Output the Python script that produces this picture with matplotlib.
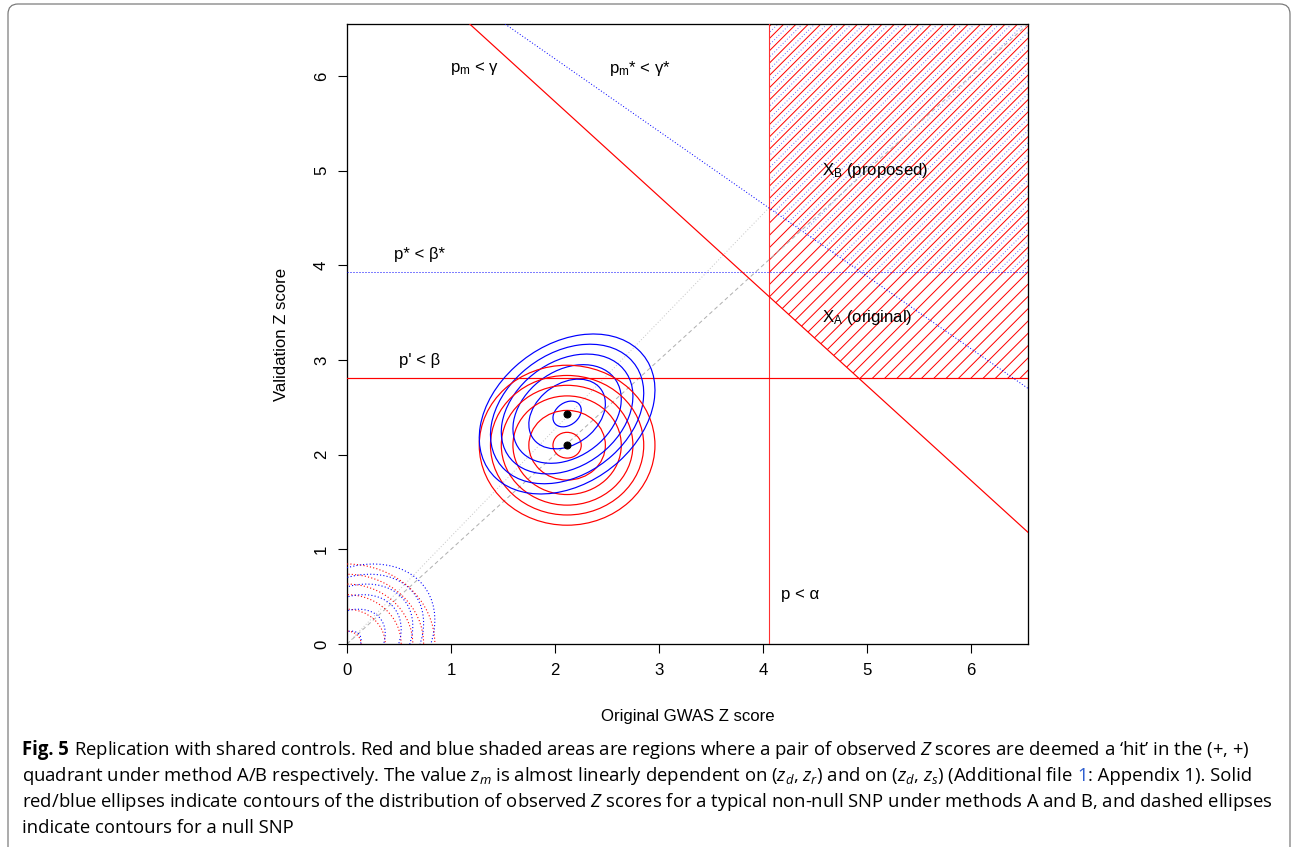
import numpy as np
import matplotlib
matplotlib.use('Agg')
import matplotlib.pyplot as plt
from matplotlib.patches import Polygon, Ellipse, FancyBboxPatch
from matplotlib.lines import Line2D
from matplotlib.text import Annotation
from matplotlib.transforms import IdentityTransform

W, H, DPI = 1294, 847, 72

# ---------------- data ----------------
x_ticks = [0, 1, 2, 3, 4, 5, 6]
y_ticks = [0, 1, 2, 3, 4, 5, 6]
z_max = 6.55
alpha_z = 4.06          # p < alpha   (vertical red line)
beta_z = 2.81           # p' < beta   (horizontal red line)
beta_star_z = 3.93      # p* < beta*  (horizontal blue dotted line)
gamma_sum = 7.73        # p_m < gamma : x + y = gamma_sum (red diagonal)
gamma_star_pts = [(1.52, 6.55), (6.55, 2.70)]   # p_m* < gamma* (blue dotted diagonal)
contour_r = [0.136, 0.368, 0.521, 0.633, 0.737, 0.845]
centre_A = (2.117, 2.10)
centre_B = (2.117, 2.43)
rho_B = 0.30
null_centre = (0.0, 0.0)
diag_dashed = [(0.0, 0.0), (6.55, 6.55)]
diag_dotted = [(0.0, 0.0), (4.06, 4.61)]

plot_labels = [
    ("p$_\\mathregular{m}$ < \u03b3", 1.23, 6.08, 'center'),
    ("p$_\\mathregular{m}$* < \u03b3*", 2.82, 6.08, 'center'),
    ("X$_\\mathregular{B}$ (proposed)", 4.57, 5.00, 'left'),
    ("X$_\\mathregular{A}$ (original)", 4.57, 3.45, 'left'),
    ("p* < \u03b2*", 0.70, 4.12, 'center'),
    ("p' < \u03b2", 0.70, 3.00, 'center'),
    ("p < \u03b1", 4.17, 0.52, 'left'),
]
x_title = "Original GWAS Z score"
y_title = "Validation Z score"

# ---------------- fonts ----------------
PLOT_FONT = 'Liberation Sans'
PFS = 16.7
CAP_FONT = 'Open Sans'
CFS = 18.55
plt.rcParams['mathtext.fontset'] = 'custom'
plt.rcParams['mathtext.rm'] = CAP_FONT
plt.rcParams['mathtext.it'] = CAP_FONT + ':italic'
plt.rcParams['mathtext.bf'] = CAP_FONT + ':bold'

fig = plt.figure(figsize=(W / DPI, H / DPI), dpi=DPI)
fig.patch.set_facecolor('white')

# frame around figure
frame = FancyBboxPatch((8, -30), 1282, 873, boxstyle='round,pad=0,rounding_size=10',
                       transform=IdentityTransform(), facecolor='none',
                       edgecolor='#777777', lw=1.2)
fig.add_artist(frame)

ax = fig.add_axes([347 / W, 203 / H, 681 / W, 620 / H])
ax.set_xlim(0, z_max)
ax.set_ylim(0, z_max)

# ---- regions ----
gs = gamma_star_pts
gslope = (gs[1][1] - gs[0][1]) / (gs[1][0] - gs[0][0])
def gstar(x):
    return gs[0][1] + gslope * (x - gs[0][0])

regA = Polygon([(alpha_z, gamma_sum - alpha_z), (alpha_z, z_max), (z_max, z_max),
                (z_max, beta_z), (gamma_sum - beta_z, beta_z)], closed=True,
               facecolor='none', edgecolor='none', lw=0, zorder=1)
ax.add_patch(regA)
xb = gs[0][0] + (beta_star_z - gs[0][1]) / gslope
regB = Polygon([(alpha_z, gstar(alpha_z)), (alpha_z, z_max), (z_max, z_max),
                (z_max, beta_star_z), (xb, beta_star_z)], closed=True,
               facecolor='none', edgecolor='none', lw=0, zorder=1)
ax.add_patch(regB)

# hatching: 45-degree lines in display space clipped to each region
HATCH_STEP = 12.3
def hatch(region, offset, **kw):
    for c in np.arange(-1400, 1400, HATCH_STEP) + offset:
        ln = Line2D([0, 2000], [c, c + 2000], transform=IdentityTransform(), zorder=1, **kw)
        ln.set_clip_path(region)
        ax.add_artist(ln)

hatch(regB, 6.0, color='#6f6fff', lw=1.0, dashes=(1, 2))
hatch(regA, 0.0, color='red', lw=1.0)

# ---- reference lines ----
ax.plot(*zip(*diag_dotted), color='#c8c8c8', lw=1, dashes=(1, 2), zorder=2)
ax.plot(*zip(*diag_dashed), color='#b0b0b0', lw=1, dashes=(4, 3), zorder=2)
ax.axvline(alpha_z, color='#ff3030', lw=1.1, zorder=3)
ax.axhline(beta_z, color='red', lw=1.2, zorder=3)
ax.axhline(beta_star_z, color='blue', lw=1, dashes=(1, 2), zorder=3)
ax.axline((0, gamma_sum), slope=-1, color='red', lw=1.2, zorder=3)
ax.axline(gs[0], gs[1], color='blue', lw=1, dashes=(1, 2), zorder=3)

# ---- contour ellipses ----
def add_ell(centre, r, rho, color, style):
    e = Ellipse(centre, width=2 * r * np.sqrt(1 + rho), height=2 * r * np.sqrt(1 - rho),
                angle=45, facecolor='none', edgecolor=color, lw=1.2, zorder=4)
    if style == 'dotted':
        e.set_linestyle((0, (1, 2)))
        e.set_linewidth(1.1)
    ax.add_patch(e)

for r in contour_r:
    add_ell(centre_A, r, 0.0, 'red', 'solid')
    add_ell(centre_B, r, rho_B, 'blue', 'solid')
    add_ell(null_centre, r, 0.0, 'red', 'dotted')
    add_ell(null_centre, r, rho_B, 'blue', 'dotted')

ax.plot([centre_A[0], centre_B[0]], [centre_A[1], centre_B[1]], 'o', color='black',
        ms=7, ls='none', zorder=5)

for txt, x, y, ha in plot_labels:
    ax.text(x, y, txt, ha=ha, va='center', fontsize=PFS, family=PLOT_FONT, zorder=6)

# ---- axes styling ----
for s in ax.spines.values():
    s.set_linewidth(1.3)
ax.set_xticks(x_ticks)
ax.set_yticks(y_ticks)
ax.set_xticklabels([str(t) for t in x_ticks], family=PLOT_FONT, fontsize=PFS)
ax.set_yticklabels([str(t) for t in y_ticks], family=PLOT_FONT, fontsize=PFS,
                   rotation=90, va='center')
ax.tick_params(direction='out', length=9, width=1.1)
ax.tick_params(axis='x', pad=10)
ax.tick_params(axis='y', pad=9)

fig.text(687.5 / W, 1 - 716 / H, x_title, ha='center', va='center',
         family=PLOT_FONT, fontsize=PFS)
fig.text(281 / W, 1 - 334 / H, y_title, ha='center', va='center', rotation=90,
         family=PLOT_FONT, fontsize=PFS)

# ---- caption ----
def cap_piece(prev, s, y_base, gap=0, **kw):
    a = Annotation(s, xy=(1, y_base), xycoords=(prev, 'figure pixels'),
                   xytext=(gap, 0), textcoords='offset pixels', ha='left', va='baseline',
                   family=CAP_FONT, fontsize=CFS, annotation_clip=False, **kw)
    fig.add_artist(a)
    return a

x0 = 22
bases = [H - 755, H - 781, H - 807, H - 833]
t1 = fig.text(x0 / W, bases[0] / H, "Fig. 5", ha='left', va='baseline',
              family=CAP_FONT, fontsize=CFS, weight='bold')
cap_piece(t1, "Replication with shared controls. Red and blue shaded areas are regions "
              "where a pair of observed $Z$ scores are deemed a \u2018hit\u2019 in the (+, +)",
          bases[0], gap=5)
t2 = fig.text(x0 / W, bases[1] / H,
              "quadrant under method A/B respectively. The value $z_m$ is almost linearly "
              "dependent on ($z_d$, $z_r$) and on ($z_d$, $z_s$) (Additional file",
              ha='left', va='baseline', family=CAP_FONT, fontsize=CFS)
t3 = cap_piece(t2, "1", bases[1], gap=5, color='#2f5fd0')
cap_piece(t3, ": Appendix 1). Solid", bases[1], gap=0)
fig.text(x0 / W, bases[2] / H,
         "red/blue ellipses indicate contours of the distribution of observed $Z$ scores "
         "for a typical non-null SNP under methods A and B, and dashed ellipses",
         ha='left', va='baseline', family=CAP_FONT, fontsize=CFS)
fig.text(x0 / W, bases[3] / H, "indicate contours for a null SNP",
         ha='left', va='baseline', family=CAP_FONT, fontsize=CFS)

fig.savefig('out.png', dpi=DPI)
